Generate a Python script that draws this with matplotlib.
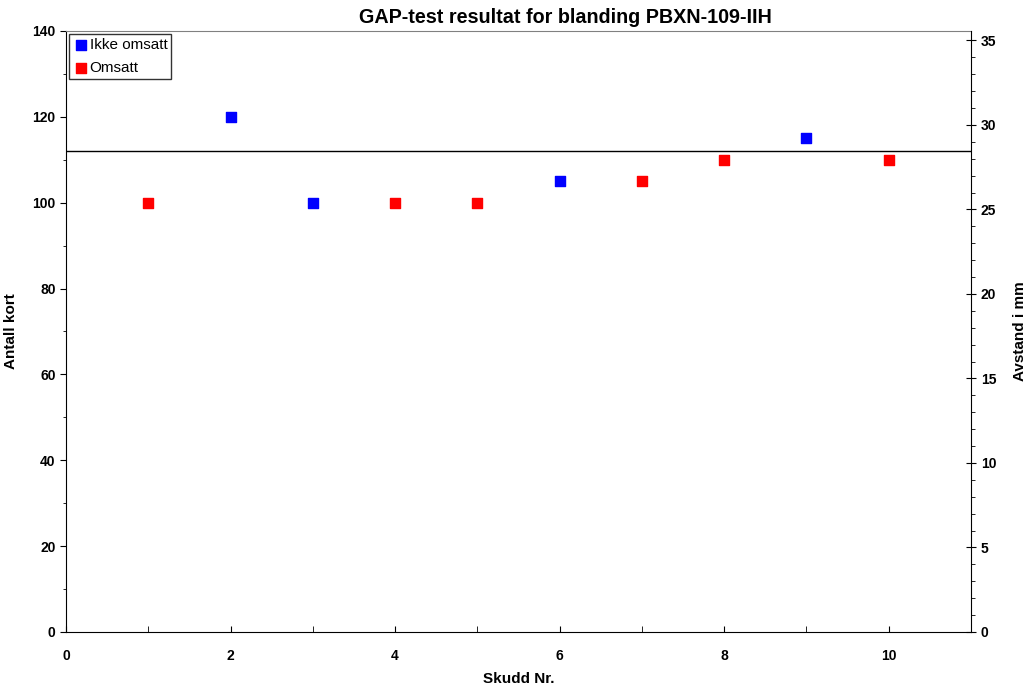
import numpy as np
import matplotlib.pyplot as plt
from matplotlib.ticker import MultipleLocator

plt.rcParams['font.family'] = ['Liberation Sans', 'DejaVu Sans']

# data
skudd_ikke = [2, 3, 6, 9]
kort_ikke = [120, 100, 105, 115]
skudd_oms = [1, 4, 5, 7, 8, 10]
kort_oms = [100, 100, 100, 105, 110, 110]
grense = 112      # horizontal line
mm_per_kort = 0.254

fig = plt.figure(figsize=(10.3, 6.87), dpi=100)
ax = fig.add_axes([0.0641, 0.0801, 0.8786, 0.8748])

ax.scatter(skudd_ikke, kort_ikke, marker='s', s=45, c='#0000ff', label='Ikke omsatt', zorder=3)
ax.scatter(skudd_oms, kort_oms, marker='s', s=45, c='#ff0000', label='Omsatt', zorder=3)
ax.axhline(grense, color='black', lw=1.0)

ax.set_xlim(0, 11)
ax.set_ylim(0, 140)
ax.xaxis.set_major_locator(MultipleLocator(2))
ax.xaxis.set_minor_locator(MultipleLocator(1))
ax.yaxis.set_major_locator(MultipleLocator(20))
ax.yaxis.set_minor_locator(MultipleLocator(10))
ax.tick_params(axis='x', which='both', direction='in', length=4, pad=12, labelsize=10)
ax.tick_params(axis='y', which='major', direction='out', length=4, labelsize=10)
ax.tick_params(axis='y', which='minor', direction='out', length=2)
for t in ax.get_xticklabels() + ax.get_yticklabels():
    t.set_fontweight('bold')

ax.spines['top'].set_color('#808080')
ax.spines['right'].set_visible(False)

ax.set_xlabel('Skudd Nr.', fontsize=11, fontweight='bold', labelpad=7)
ax.set_ylabel('Antall kort', fontsize=11, fontweight='bold', labelpad=10)
ax.set_title('GAP-test resultat for blanding PBXN-109-IIH', fontsize=14.2, fontweight='bold',
             pad=6, x=0.552)

ax2 = ax.twinx()
ax2.set_ylim(0, 140 * mm_per_kort)
ax2.yaxis.set_major_locator(MultipleLocator(5))
ax2.yaxis.set_minor_locator(MultipleLocator(1))
ax2.tick_params(axis='y', which='major', direction='inout', length=7, labelsize=10)
ax2.tick_params(axis='y', which='minor', direction='out', length=3)
for t in ax2.get_yticklabels():
    t.set_fontweight('bold')
for s in ['top', 'left', 'bottom']:
    ax2.spines[s].set_visible(False)
ax2.set_ylabel('Avstand i mm', fontsize=11, fontweight='bold', labelpad=12)

leg = ax.legend(loc='upper left', fontsize=11, frameon=True, fancybox=False,
                edgecolor='black', borderaxespad=0.2, handletextpad=0.0,
                handlelength=1.1, borderpad=0.25, labelspacing=0.6, markerscale=1.0)
leg.get_frame().set_linewidth(1.0)

fig.savefig('out.png', dpi=100)
